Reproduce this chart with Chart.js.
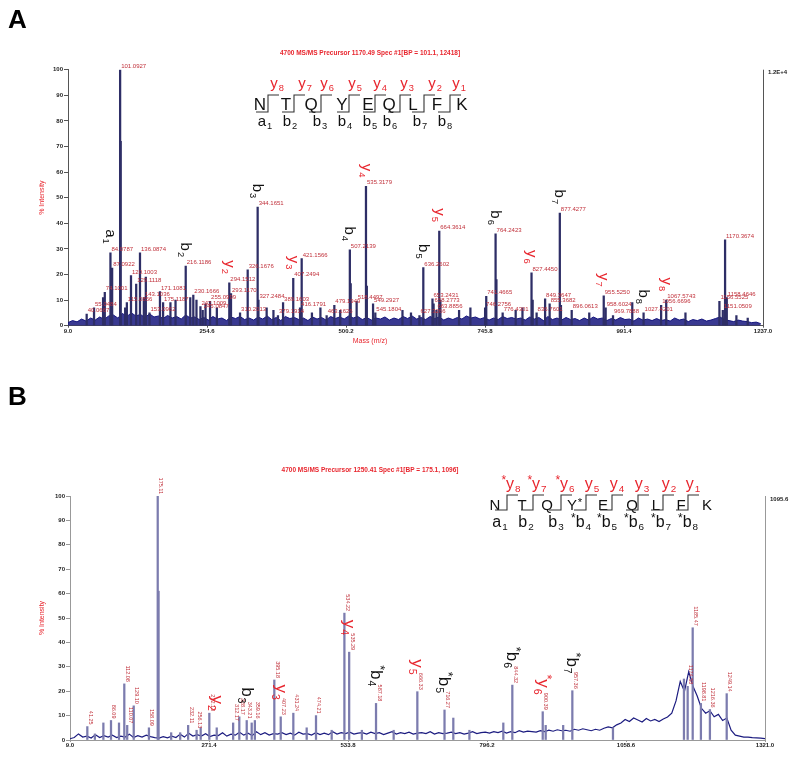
<!DOCTYPE html>
<html>
<head>
<meta charset="utf-8">
<script src="https://cdn.jsdelivr.net/npm/chart.js@4.4.0/dist/chart.umd.min.js"></script>
<style>
    html, body { margin: 0; padding: 0; background: #fff; }
    #wrap { position: relative; width: 800px; height: 759px; }
    canvas { position: absolute; left: 0; }
    #cA { top: 0; }
    #cB { top: 370px; }
</style>
</head>
<body>
<div id="wrap">
    <canvas id="cA" width="800" height="370"></canvas>
    <canvas id="cB" width="800" height="389"></canvas>
</div>
<script>
// ---------- panel A data (m/z, % intensity, peak label) ----------
const titleA = '4700 MS/MS Precursor 1170.49 Spec #1[BP = 101.1, 12418]';
const xTicksA = [9.0, 254.6, 500.2, 745.8, 991.4, 1237.0];
const yTicks = [0, 10, 20, 30, 40, 50, 60, 70, 80, 90, 100];
const maxLabelA = '1.2E+4';

const peaksA = [
    [42, 4.5, '40.0667'], [55, 7, '55.0484'], [71, 11, ''], [74, 13, '74.1001'],
    [84, 28.5, '84.0787'], [87, 22.5, '87.0922'], [101.1, 100, '101.0927'], [102.1, 72, ''],
    [110, 7, ''], [113, 9, '115.0856'], [120.3, 19.6, '120.1003'], [129.5, 16.3, '129.1118'],
    [136.2, 28.5, '136.0874'], [143, 11, '143.1036'], [146.5, 19, ''], [153, 5, '153.0962'],
    [171.5, 13.3, '171.1081'], [177, 9, '175.1187'], [190, 9, ''], [199, 10, ''],
    [217, 23.3, '216.1186'], [225, 11, ''], [230.4, 12, '230.1666'], [236, 10, ''],
    [243, 7.5, '242.1009'], [247, 6, '245.0847'], [252, 8.5, ''], [260, 9.5, '255.0999'],
    [272, 7, ''], [294, 16.7, '294.1512'], [297, 12.5, '293.1170'], [313, 5, '310.2013'],
    [326.5, 21.8, '326.1676'], [344.1, 46.3, '344.1651'], [345.5, 10, '327.2484'],
    [360, 7, ''], [372, 6, ''], [380, 4, '379.1914'], [389, 9, '389.1603'],
    [407, 18.5, '407.2494'], [419, 7, '416.1791'], [421.9, 26.2, '421.1566'],
    [440, 5, ''], [455, 7, ''], [466, 4, '463.1626'], [479.6, 8, '479.1949'], [490, 6, ''],
    [507, 29.6, '507.2139'], [508.5, 16.5, ''], [519, 9.5, '518.4497'],
    [535.5, 54.4, '535.3179'], [537, 15.5, ''], [548, 8.5, '549.2927'], [552, 5, '545.1804'],
    [600, 6, ''], [615, 5, ''], [630, 4, '627.3266'], [636.8, 22.7, '636.2602'],
    [653, 10.5, '653.2431'], [655, 8.5, '658.2773'], [660, 6, '663.8856'],
    [665, 37, '664.3614'], [667, 10, ''], [700, 6, ''], [720, 7, ''],
    [746, 7, '746.2756'], [748, 11.5, '741.4665'], [764.5, 35.9, '764.2423'], [766, 18, ''],
    [777, 5, '776.4301'], [800, 6, ''], [812, 7, ''], [828, 20.7, '827.4450'], [830, 10, ''],
    [837, 5, '836.7601'], [852, 10.5, '849.3647'], [860, 8.5, '855.3682'],
    [878, 44, '877.4277'], [880, 8, ''], [899, 6, '896.0613'], [930, 5, ''],
    [955.6, 11.7, '955.5250'], [959, 7, '958.6024'], [972, 4, '969.7888'], [1006, 9, ''],
    [1026, 5, '1027.4201'], [1057, 8, '1056.6696'], [1066, 10, '1067.5743'], [1100, 5, ''],
    [1160, 9.5, '1156.5525'], [1166, 6, '1151.0509'], [1170, 33.5, '1170.3674'],
    [1173, 11, '1158.4646'], [1190, 4, ''], [1210, 3, '']
];

// baseline noise, sampled every 8 m/z from 9
const noiseStartA = 9, noiseStepA = 8;
const noiseA = [
    1.2, 2.0, 1.5, 2.6, 1.8, 3.0, 2.2, 3.4, 2.5, 3.8,
    4.2, 3.0, 4.8, 3.6, 5.0, 3.8, 4.4, 3.2, 4.6, 3.4,
    3.8, 2.8, 4.0, 3.0, 3.6, 2.6, 4.2, 3.0, 3.4, 2.4,
    3.2, 2.2, 3.6, 2.6, 3.0, 2.0, 3.4, 2.8, 3.6, 2.4,
    3.0, 2.2, 3.4, 2.6, 3.8, 2.4, 3.2, 2.0, 3.6, 2.8,
    3.2, 2.4, 3.0, 2.0, 3.4, 2.6, 3.2, 2.2, 3.6, 2.8,
    3.4, 2.6, 3.8, 3.0, 3.6, 2.4, 3.2, 2.2, 3.0, 2.6,
    3.4, 2.2, 3.0, 2.4, 3.6, 2.8, 3.8, 2.6, 3.2, 2.4,
    3.6, 2.8, 3.4, 2.2, 3.0, 2.4, 3.2, 2.6, 3.8, 3.0,
    3.4, 2.6, 3.2, 2.2, 3.0, 2.4, 3.6, 2.8, 3.2, 2.6,
    3.0, 2.2, 3.4, 2.6, 3.2, 2.0, 3.6, 2.4, 3.0, 2.2,
    3.2, 2.4, 2.8, 2.0, 3.0, 2.2, 3.4, 2.6, 3.0, 2.0,
    2.8, 2.2, 3.2, 2.4, 2.6, 1.8, 3.0, 2.2, 2.6, 2.0,
    2.8, 2.0, 2.4, 1.8, 3.0, 2.2, 2.6, 1.6, 2.4, 2.0,
    2.6, 1.8, 2.2, 2.8, 3.4, 2.4, 2.0, 1.6, 2.2, 1.8,
    1.6, 1.2, 1.4, 0.8
];

// fragment ion labels: [m/z of peak, ion, index]
const ionsA = [
    [84, 'a', '1'], [217, 'b', '2'], [294, 'y', '2'], [344.1, 'b', '3'], [407, 'y', '3'],
    [507, 'b', '4'], [535.5, 'y', '4'], [636.8, 'b', '5'], [665, 'y', '5'], [764.5, 'b', '6'],
    [828, 'y', '6'], [878, 'b', '7'], [955.6, 'y', '7'], [1026, 'b', '8'], [1066, 'y', '8']
];

// ---------- panel B data ----------
const titleB = '4700 MS/MS Precursor 1250.41 Spec #1[BP = 175.1, 1096]';
const xTicksB = [9.0, 271.4, 533.8, 796.2, 1058.6, 1321.0];
const maxLabelB = '1095.6';

const peaksB = [
    [41.7, 5.5, '41.25'], [56, 2.5, ''], [72, 7, ''], [86.4, 8, '86.09'], [101.5, 7, ''],
    [111.5, 23, '112.08'], [117, 6, '110.07'], [129.3, 14, '129.10'], [158, 5, '158.09'],
    [174.6, 100, '175.11'], [176.2, 61, ''], [200, 3, ''], [217, 3, ''], [232, 6, '232.11'],
    [248, 4, '256.13'], [255.7, 5, ''], [272, 11, '272.13'], [286, 5, ''], [317, 7, '312.17'],
    [328.6, 9.5, '328.17'], [342.6, 8, '343.21'], [352, 7, ''], [358, 8, '359.16'],
    [394.7, 24.6, '395.18'], [406.8, 9.5, '407.23'], [430.6, 11, '431.24'], [455.8, 5, ''],
    [473.4, 10, '474.21'], [503, 4, ''], [527, 52, '534.22'], [536, 36, '535.29'], [560, 4, ''],
    [586.7, 15, '587.18'], [620, 4, ''], [664.7, 19.8, '666.33'], [716, 12.3, '716.27'],
    [732.6, 9, ''], [763, 4, ''], [827, 7, ''], [844, 22.5, '844.32'], [901.4, 11.6, '900.39'],
    [907, 6, ''], [940, 6, ''], [957.3, 20.2, '957.36'], [1034, 5, ''], [1168, 25, ''],
    [1175, 22, '1174.58'], [1184.5, 46, '1185.47'], [1200, 15, '1198.81'],
    [1217, 12.5, '1216.36'], [1248.7, 19, '1249.14']
];

const noiseStartB = 9, noiseStepB = 8;
const noiseB = [
    0.5, 1.0, 2.5, 1.2, 1.6, 0.8, 2.2, 1.0, 1.8, 1.2,
    2.0, 1.0, 1.6, 1.2, 2.4, 1.0, 1.8, 1.2, 2.0, 1.4,
    1.0, 0.8, 1.4, 0.9, 1.6, 1.0, 2.4, 1.2, 2.8, 1.6,
    2.2, 1.6, 2.6, 1.4, 2.0, 1.8, 3.0, 1.6, 2.4, 2.0,
    3.2, 2.0, 2.8, 1.8, 3.4, 2.2, 3.0, 2.0, 2.6, 2.4,
    3.0, 2.2, 2.8, 2.0, 3.2, 2.4, 2.6, 2.0, 3.0, 2.2,
    2.8, 2.2, 3.4, 2.4, 3.0, 2.6, 3.2, 2.4, 2.8, 3.0,
    2.4, 3.2, 2.6, 3.0, 2.2, 2.8, 3.4, 2.4, 3.0, 2.6,
    3.2, 2.4, 2.8, 3.0, 2.6, 3.4, 2.4, 3.0, 2.6, 2.8,
    3.2, 2.6, 3.0, 2.4, 2.8, 3.4, 2.6, 3.0, 3.2, 2.8,
    3.4, 3.0, 3.6, 2.8, 3.4, 3.0, 3.8, 3.2, 3.6, 3.4,
    3.2, 3.8, 3.4, 4.0, 3.6, 4.2, 3.8, 4.0, 3.6, 4.4,
    4.0, 4.6, 4.2, 3.8, 4.4, 4.0, 4.8, 5.4, 5.0, 6.2,
    7.0, 8.4, 7.6, 9.0, 8.2, 7.4, 8.8, 7.8, 8.4, 7.6,
    8.6, 9.4, 11.0, 16.0, 24.0, 20.0, 28.0, 22.0, 18.0, 13.0,
    11.0, 12.0, 9.5, 10.5, 8.0, 9.0, 4.0, 2.0, 1.6, 1.2,
    1.2, 1.0, 0.9, 0.8, 0.6
];

const ionsB = [
    [286, 'y', '2'], [342.6, 'b', '3'], [406.8, 'y', '3'], [536, 'y', '4'], [586.7, '*b', '4'],
    [664.7, 'y', '5'], [716, '*b', '5'], [844, '*b', '6'], [901.4, '*y', '6'], [957.3, '*b', '7']
];

// ---------- peptide sequence diagrams ----------
const residuesA = ['N', 'T', 'Q', 'Y', 'E', 'Q', 'L', 'F', 'K'];
const yIonsA = [['y', '8'], ['y', '7'], ['y', '6'], ['y', '5'], ['y', '4'], ['y', '3'], ['y', '2'], ['y', '1']];
const bIonsA = [['a', '1'], ['b', '2'], ['b', '3'], ['b', '4'], ['b', '5'], ['b', '6'], ['b', '7'], ['b', '8']];

const residuesB = ['N', 'T', 'Q', 'Y*', 'E', 'Q', 'L', 'F', 'K'];
const yIonsB = [['*y', '8'], ['*y', '7'], ['*y', '6'], ['y', '5'], ['y', '4'], ['y', '3'], ['y', '2'], ['y', '1']];
const bIonsB = [['a', '1'], ['b', '2'], ['b', '3'], ['*b', '4'], ['*b', '5'], ['*b', '6'], ['*b', '7'], ['*b', '8']];

// ---------- drawing helpers ----------
const FONT = '"Liberation Sans", Arial, Helvetica, sans-serif';
const RED = '#e8262e';
const LABEL_RED = '#c0303a';

function measureIon(ctx, name, sub, size) {
    const star = name.startsWith('*');
    const letter = star ? name.slice(1) : name;
    ctx.font = `${size * 0.75}px ${FONT}`;
    const ws = star ? ctx.measureText('*').width : 0;
    ctx.font = `${size}px ${FONT}`;
    const wl = ctx.measureText(letter).width;
    ctx.font = `${size * 0.62}px ${FONT}`;
    const wn = ctx.measureText(sub).width;
    return ws + wl + wn + 1;
}

function drawIon(ctx, x, y, name, sub, color, size) {
    const star = name.startsWith('*');
    const letter = star ? name.slice(1) : name;
    ctx.fillStyle = color;
    ctx.textAlign = 'left';
    ctx.textBaseline = 'alphabetic';
    let sx = x;
    if (star) {
        ctx.font = `${size * 0.75}px ${FONT}`;
        ctx.fillText('*', sx, y - size * 0.3);
        sx += ctx.measureText('*').width;
    }
    ctx.font = `${size}px ${FONT}`;
    ctx.fillText(letter, sx, y);
    sx += ctx.measureText(letter).width + 1;
    ctx.font = `${size * 0.62}px ${FONT}`;
    ctx.fillText(sub, sx, y + size * 0.2);
}

function ionColor(name) {
    return name.includes('y') ? RED : '#111';
}

function makeAnnotations(cfg) {
    return {
        id: 'annot' + cfg.key,
        afterDraw(chart) {
            const {ctx, chartArea: area, scales: {x, y}} = chart;
            ctx.save();

            // panel letter
            ctx.fillStyle = '#000';
            ctx.font = `bold 26px ${FONT}`;
            ctx.textAlign = 'left';
            ctx.textBaseline = 'alphabetic';
            ctx.fillText(cfg.key, 8, cfg.letterY);

            // header
            ctx.fillStyle = RED;
            ctx.font = `bold 6.5px ${FONT}`;
            ctx.textAlign = 'center';
            ctx.textBaseline = 'middle';
            ctx.fillText(cfg.title, 370, cfg.titleY);

            // right frame line and its label
            ctx.strokeStyle = cfg.axisColor;
            ctx.lineWidth = 1;
            ctx.beginPath();
            ctx.moveTo(area.right + 0.5, area.top);
            ctx.lineTo(area.right + 0.5, area.bottom);
            ctx.stroke();
            ctx.fillStyle = '#222';
            ctx.font = `bold 6px ${FONT}`;
            ctx.textAlign = 'left';
            ctx.fillText(cfg.maxLabel, area.right + 5, area.top + 3);

            // axis titles
            ctx.fillStyle = RED;
            ctx.font = `7px ${FONT}`;
            ctx.save();
            ctx.translate(42, (area.top + area.bottom) / 2);
            ctx.rotate(-Math.PI / 2);
            ctx.textAlign = 'center';
            ctx.fillText('% Intensity', 0, 0);
            ctx.restore();
            if (cfg.xTitle) {
                ctx.textAlign = 'center';
                ctx.fillText(cfg.xTitle, 370, area.bottom + 15);
            }

            // peak labels
            for (const [mz, h, label] of cfg.peaks) {
                if (!label) continue;
                const px = x.getPixelForValue(mz);
                const py = y.getPixelForValue(h);
                ctx.fillStyle = LABEL_RED;
                if (cfg.rotateLabels) {
                    ctx.font = `5.5px ${FONT}`;
                    const w = ctx.measureText(label).width;
                    ctx.save();
                    ctx.translate(px + 3, py - 2 - w);
                    ctx.rotate(Math.PI / 2);
                    ctx.textAlign = 'left';
                    ctx.textBaseline = 'middle';
                    ctx.fillText(label, 0, 0);
                    ctx.restore();
                } else {
                    ctx.font = `6px ${FONT}`;
                    ctx.textAlign = 'left';
                    ctx.textBaseline = 'alphabetic';
                    ctx.fillText(label, px + 1, py - 2);
                }
            }

            // fragment ion labels, rotated above their peaks
            for (const [mz, name, sub] of cfg.ions) {
                const peak = cfg.peaks.find(p => p[0] === mz);
                const px = x.getPixelForValue(mz);
                const py = y.getPixelForValue(peak[1]);
                const size = cfg.ionSize;
                const w = measureIon(ctx, name, sub, size);
                ctx.save();
                ctx.translate(px + 1, py - cfg.ionGap - w);
                ctx.rotate(Math.PI / 2);
                drawIon(ctx, 0, size * 0.36, name, sub, ionColor(name), size);
                ctx.restore();
            }

            // sequence diagram
            const s = cfg.seq;
            ctx.fillStyle = '#111';
            ctx.font = `${s.resSize}px ${FONT}`;
            ctx.textAlign = 'center';
            ctx.textBaseline = 'alphabetic';
            s.residues.forEach((r, i) => {
                if (r.endsWith('*')) {
                    ctx.font = `${s.resSize}px ${FONT}`;
                    ctx.fillText(r[0], s.resX[i] - 3, s.resY);
                    ctx.font = `${s.resSize * 0.75}px ${FONT}`;
                    ctx.fillText('*', s.resX[i] + 5, s.resY - 4);
                    ctx.font = `${s.resSize}px ${FONT}`;
                } else {
                    ctx.fillText(r, s.resX[i], s.resY);
                }
            });
            ctx.strokeStyle = '#333';
            ctx.lineWidth = 1.1;
            for (const vx of s.marks) {
                ctx.beginPath();
                ctx.moveTo(vx - 12, s.markBottom);
                ctx.lineTo(vx, s.markBottom);
                ctx.lineTo(vx, s.markTop);
                ctx.lineTo(vx + 11, s.markTop);
                ctx.stroke();
            }
            s.yIons.forEach(([name, sub], i) => {
                const w = measureIon(ctx, name, sub, s.ionSize);
                drawIon(ctx, s.yX[i] - w / 2, s.yY, name, sub, RED, s.ionSize);
            });
            s.bIons.forEach(([name, sub], i) => {
                const w = measureIon(ctx, name, sub, s.ionSize);
                drawIon(ctx, s.bX[i] - w / 2, s.bY, name, sub, '#111', s.ionSize);
            });

            ctx.restore();
        }
    };
}

function makeChart(canvasId, cfg) {
    const tickFont = {family: FONT, size: 6, weight: 'bold'};
    return new Chart(document.getElementById(canvasId), {
        type: 'bar',
        data: {
            datasets: [{
                type: 'bar',
                data: cfg.peaks.map(p => ({x: p[0], y: p[1]})),
                backgroundColor: cfg.peakColor,
                barThickness: 1.6,
                grouped: false,
                order: 0
            }, {
                type: 'line',
                data: cfg.noise.map((v, i) => ({x: cfg.noiseStart + i * cfg.noiseStep, y: v})),
                borderColor: cfg.noiseColor,
                backgroundColor: cfg.noiseFill,
                fill: cfg.noiseFill ? 'origin' : false,
                borderWidth: cfg.noiseWidth,
                pointRadius: 0,
                tension: 0,
                order: 1
            }]
        },
        options: {
            responsive: false,
            animation: false,
            events: [],
            layout: {padding: cfg.padding},
            plugins: {legend: {display: false}, tooltip: {enabled: false}},
            scales: {
                x: {
                    type: 'linear',
                    min: cfg.xTicks[0],
                    max: cfg.xTicks[cfg.xTicks.length - 1],
                    offset: false,
                    grid: {drawOnChartArea: false, offset: false, tickLength: 2, color: cfg.axisColor},
                    border: {color: cfg.axisColor},
                    ticks: {
                        font: tickFont, color: '#222', padding: 0, maxRotation: 0,
                        callback: v => v.toFixed(1)
                    },
                    afterBuildTicks: scale => {
                        scale.ticks = cfg.xTicks.map(v => ({value: v}));
                    },
                    afterFit: scale => {
                        scale.height = 14;
                    }
                },
                y: {
                    min: 0,
                    max: 100,
                    grid: {drawOnChartArea: false, tickLength: 4, color: cfg.axisColor},
                    border: {color: cfg.axisColor},
                    ticks: {font: tickFont, color: '#222', padding: 1},
                    afterBuildTicks: scale => {
                        scale.ticks = yTicks.map(v => ({value: v}));
                    },
                    afterFit: scale => {
                        scale.width = 30;
                    }
                }
            }
        },
        plugins: [makeAnnotations(cfg)]
    });
}

const cfgA = {
    key: 'A', letterY: 28, title: titleA, titleY: 53, maxLabel: maxLabelA, xTitle: 'Mass (m/z)',
    peaks: peaksA, ions: ionsA, noise: noiseA, noiseStart: noiseStartA, noiseStep: noiseStepA,
    xTicks: xTicksA, peakColor: '#2e2e66', noiseColor: '#16167e', noiseFill: 'rgba(22, 22, 126, 0.85)',
    noiseWidth: 1, axisColor: '#555', rotateLabels: false, ionSize: 15, ionGap: 9,
    padding: {left: 38, right: 37, top: 69.7, bottom: 30.3},
    seq: {
        residues: residuesA, resX: [260, 286, 311, 342, 368, 389, 413, 437, 462], resY: 110, resSize: 17,
        marks: [268, 294, 321, 349, 375, 400, 424, 450], markTop: 95, markBottom: 112,
        yIons: yIonsA, yX: [277, 305, 327, 355, 380, 407, 435, 459], yY: 88,
        bIons: bIonsA, bX: [265, 290, 320, 345, 370, 390, 420, 445], bY: 126, ionSize: 15
    }
};

const cfgB = {
    key: 'B', letterY: 35, title: titleB, titleY: 100, maxLabel: maxLabelB, xTitle: null,
    peaks: peaksB, ions: ionsB, noise: noiseB, noiseStart: noiseStartB, noiseStep: noiseStepB,
    xTicks: xTicksB, peakColor: '#7c7cae', noiseColor: '#1c1c80', noiseFill: null,
    noiseWidth: 1.2, axisColor: '#999', rotateLabels: true, ionSize: 17, ionGap: 17,
    padding: {left: 40, right: 35, top: 126, bottom: 5},
    seq: {
        residues: residuesB, resX: [495, 522, 547, 575, 603, 632, 656, 681, 707], resY: 140, resSize: 15,
        marks: [507, 533, 561, 586, 612, 638, 663, 688], markTop: 125, markBottom: 140,
        yIons: yIonsB, yX: [511, 537, 565, 592, 617, 642, 669, 693], yY: 119,
        bIons: bIonsB, bX: [500, 526, 556, 581, 607, 634, 661, 688], bY: 157, ionSize: 16
    }
};

makeChart('cA', cfgA);
makeChart('cB', cfgB);
</script>
</body>
</html>
